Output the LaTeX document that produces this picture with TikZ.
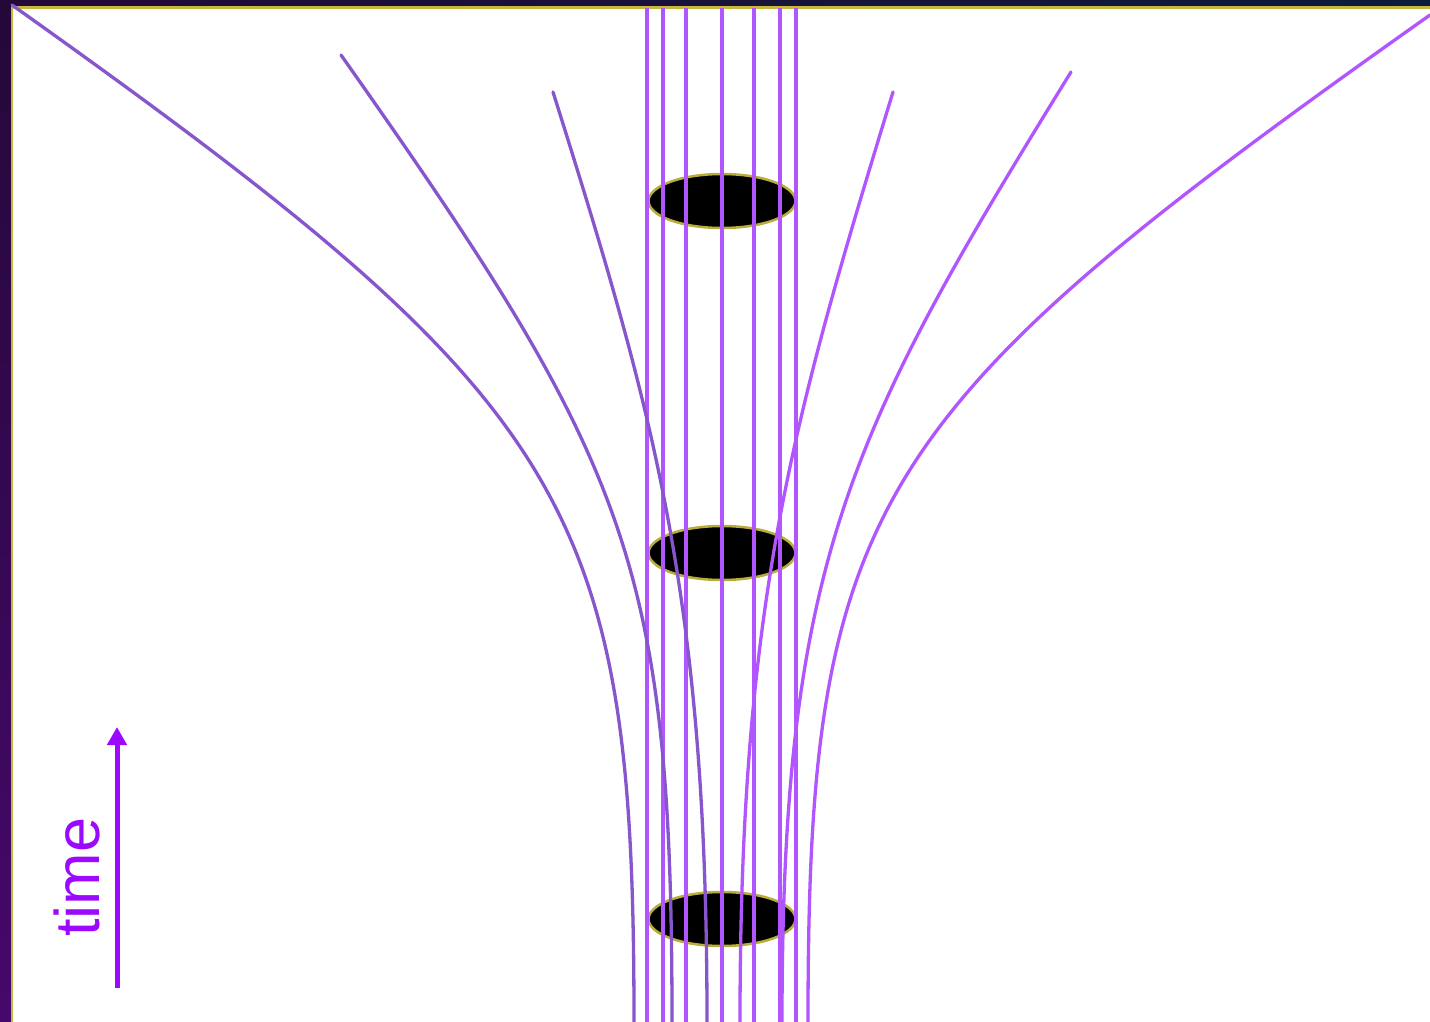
\documentclass[tikz,border=0pt]{standalone}
\usepackage{fontspec}
\setmainfont{Liberation Sans}
\usetikzlibrary{shapes.geometric,arrows.meta}

\definecolor{vline}{HTML}{B155FF}
\definecolor{lcurve}{HTML}{8755CC}
\definecolor{rcurve}{HTML}{B155FF}
\definecolor{rim}{HTML}{B8AC3A}
\definecolor{frameyellow}{HTML}{C4B83E}
\definecolor{timeviolet}{HTML}{9B0AFF}
\definecolor{bgpurpleA}{HTML}{240838}
\definecolor{bgpurpleB}{HTML}{46086C}
\definecolor{bgnavy}{HTML}{0C1C3A}

\tikzset{
  worldline/.style={line width=3.3pt, vline},
  leftline/.style={line width=3.3pt, lcurve, line cap=round},
  rightline/.style={line width=3.3pt, rcurve, line cap=round},
  hole/.style={ellipse, draw=rim, line width=2.5pt, fill=black,
    minimum width=147pt, minimum height=54pt, inner sep=0pt},
  timearrow/.style={line width=5pt, timeviolet,
    -{Triangle[width=19pt,length=18pt]}},
  timelabel/.style={text=timeviolet, rotate=90, inner sep=0pt,
    font=\fontsize{63}{63}\selectfont},
}

\begin{document}
\begin{tikzpicture}[x=1pt,y=-1pt]
\useasboundingbox (0,0) rectangle (1430,1022);

% dark surround
\fill[bgpurpleA] (0,0) rectangle (1430,1022);
\shade[left color=bgpurpleA, middle color=black, right color=bgnavy]
  (0,0) rectangle (1430,7);
\shade[top color=bgpurpleA, bottom color=bgpurpleB] (0,0) rectangle (11,1022);

% white panel with its yellow rim
\fill[white] (12,8) rectangle (1430,1022);
\draw[frameyellow, line width=2.5pt] (12,1022) -- (12,7.3) -- (1430,7.3);

% three black discs, one above another
\node[hole] (h1) at (722,201) {};
\node[hole] (h2) at (722,553) {};
\node[hole] (h3) at (722,919) {};

% straight vertical world lines
\foreach \x in {647,663,686,722,754,780,796}
  \draw[worldline] (\x,8.5) -- (\x,1022);

% world lines bending in from the left
\draw[leftline] (12,5) .. controls (572,403) and (634,500) .. (634,1022);
\draw[leftline] (341,55) .. controls (627,461) and (672,560) .. (672,1022);
\draw[leftline] (553,92) .. controls (655,416) and (707,600) .. (707,1022);

% world lines bending in from the right
\draw[rightline] (893,92) .. controls (794,416) and (740,600) .. (740,1022);
\draw[rightline] (1071,72) .. controls (850,430) and (782,560) .. (782,1022);
\draw[rightline] (1430,15) .. controls (870,411) and (808,500) .. (808,1022);

% time axis
\coordinate (tfoot) at (117,988);
\coordinate (thead) at (117,727);
\draw[timearrow] (tfoot) -- (thead);
\node[timelabel] (tlabel) at (77,877) {time};
\end{tikzpicture}
\end{document}
